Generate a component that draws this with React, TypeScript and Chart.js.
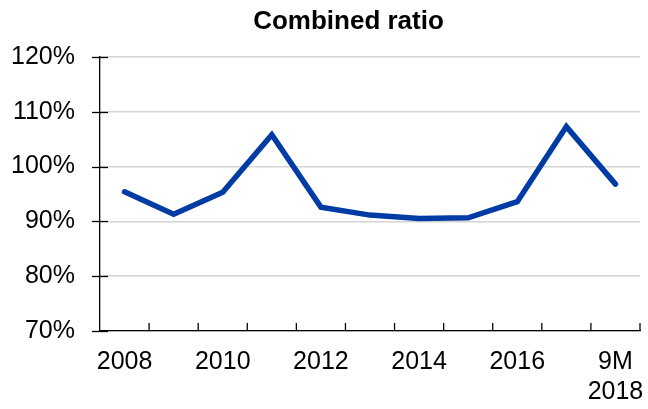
import React, { useEffect, useRef } from "react";
import { Chart, registerables } from "chart.js";

Chart.register(...registerables);

const categories: (string | string[])[] = [
  "2008", "2009", "2010", "2011", "2012", "2013", "2014", "2015", "2016", "2017", ["9M", "2018"],
];
const combinedRatio = [95.4, 91.3, 95.3, 105.8, 92.6, 91.15, 90.55, 90.65, 93.6, 107.3, 96.8];
const titleText = "Combined ratio";
const yMin = 70;
const yMax = 120;
const yStep = 10;

const FONT = "'Liberation Sans', Arial, sans-serif";

const customPlugin = {
  id: "customDecor",
  afterDraw(chart: any) {
    const ctx = chart.ctx;
    const { left, right, bottom } = chart.chartArea;
    const ys = chart.scales.y;
    ctx.save();
    ctx.strokeStyle = "#000";
    ctx.lineWidth = 1.3;
    ys.ticks.forEach((_t: any, i: number) => {
      const y = Math.round(ys.getPixelForTick(i)) + 0.5;
      ctx.beginPath();
      ctx.moveTo(left - 8, y);
      ctx.lineTo(left + 8, y);
      ctx.stroke();
    });
    const n = categories.length;
    for (let i = 1; i <= n; i++) {
      const x = left + (i * (right - left)) / n;
      ctx.beginPath();
      ctx.moveTo(x, bottom);
      ctx.lineTo(x, bottom - 8);
      ctx.stroke();
    }
    ctx.fillStyle = "#000";
    ctx.font = `bold 26px ${FONT}`;
    ctx.textAlign = "center";
    ctx.textBaseline = "alphabetic";
    ctx.fillText(titleText, 348.5, 29);
    ctx.restore();
  },
};

export default function App() {
  const ref = useRef<HTMLCanvasElement>(null);
  useEffect(() => {
    document.body.style.margin = "0";
    const chart = new Chart(ref.current!, {
      type: "line",
      data: {
        labels: categories as any,
        datasets: [
          {
            data: combinedRatio,
            borderColor: "#003BA6",
            borderWidth: 5.5,
            borderCapStyle: "round",
            borderJoinStyle: "miter",
            pointRadius: 0,
            tension: 0,
            fill: false,
          },
        ],
      },
      options: {
        responsive: false,
        animation: false,
        layout: { padding: { left: 0, right: 8, top: 57, bottom: 0 } },
        plugins: { legend: { display: false }, title: { display: false }, tooltip: { enabled: false } },
        scales: {
          x: {
            offset: true,
            grid: { display: true, drawOnChartArea: false, drawTicks: false, offset: true, color: "transparent" },
            border: { display: true, color: "#000", width: 1.3 },
            ticks: {
              autoSkip: false,
              maxRotation: 0,
              padding: 16,
              color: "#000",
              font: { family: FONT, size: 25, lineHeight: 1.2 },
              callback: function (this: any, _v: any, index: number) {
                return index % 2 === 0 ? categories[index] : "";
              },
            },
            afterFit(scale: any) {
              scale.height = 78;
              scale.paddingLeft = 0;
              scale.paddingRight = 0;
            },
          },
          y: {
            min: yMin,
            max: yMax,
            grid: { color: "#d4d4d4", lineWidth: 1.5, drawTicks: true, tickLength: 8, tickColor: "transparent" },
            border: { display: true, color: "#000", width: 1.3 },
            ticks: {
              stepSize: yStep,
              padding: 17,
              color: "#000",
              font: { family: FONT, size: 25 },
              callback: (v: any) => `${v}%`,
            },
            afterFit(scale: any) {
              scale.width = 100;
              scale.paddingTop = 0;
              scale.paddingBottom = 0;
            },
          },
        },
      },
      plugins: [customPlugin],
    });
    return () => chart.destroy();
  }, []);
  return (
    <canvas
      ref={ref}
      width={648}
      height={409}
      style={{ display: "block", position: "absolute", left: 0, top: 0 }}
    />
  );
}
